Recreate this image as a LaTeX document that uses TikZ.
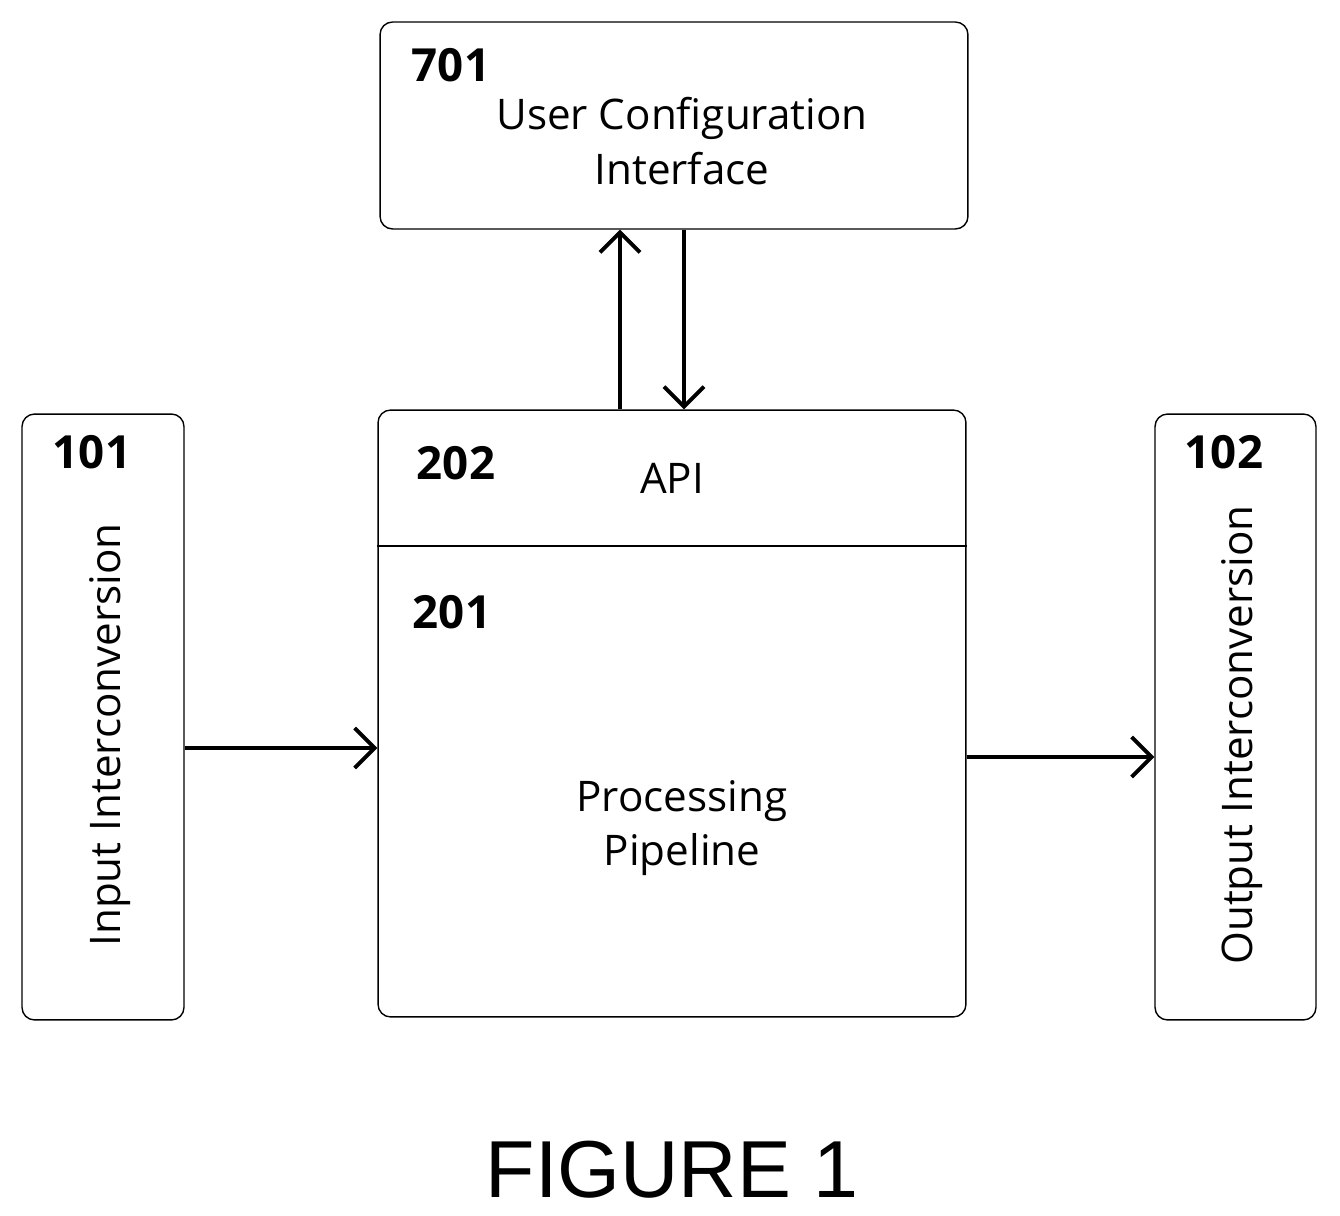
\documentclass[tikz,border=0pt]{standalone}
\usepackage{fontspec}
\setmainfont{Open Sans}
\newfontfamily\figfont{Liberation Sans}
\usetikzlibrary{arrows.meta,positioning}
\tikzset{
  blk/.style={draw, line width=0.8pt, rounded corners=0.25cm, inner sep=0pt},
  lbl/.style={font=\fontsize{26}{30}\selectfont\bfseries},
  txt/.style={font=\fontsize{24}{31}\selectfont, align=center},
  arr/.style={-{Straight Barb[length=4mm,width=8mm,line width=2.2pt]}, line width=2.4pt},
}
\begin{document}
\begin{tikzpicture}[x=0.02cm, y=-0.02cm]
    \useasboundingbox (0,0) rectangle (1340,1216);

    \node[blk, minimum width=11.76cm, minimum height=4.14cm] (ucfg) at (674,125.5) {};
    \node[blk, minimum width=3.24cm, minimum height=12.12cm] (inconv) at (103,717) {};
    \node[blk, minimum width=11.76cm, minimum height=12.14cm] (pipe) at (672,713.5) {};
    \node[blk, minimum width=3.22cm, minimum height=12.12cm] (outconv) at (1235.5,717) {};
    \draw[line width=0.8pt] (pipe.west |- 0,546) coordinate (div) -- (pipe.east |- 0,546);

    % labels
    \node[lbl] (n701) at (451,65) {701};
    \node[txt] (ucfgtxt) at (682,141) {User Configuration\\Interface};
    \node[lbl] (n101) at (92,452) {101};
    \node[txt, rotate=90] (intxt) at (110,735) {Input Interconversion};
    \node[lbl] (n202) at (456,463) {202};
    \node[txt] (api) at (672,478) {API};
    \node[lbl] (n201) at (452,612) {201};
    \node[txt] (pptxt) at (682,828) {Processing\\Pipeline};
    \node[lbl] (n102) at (1224,452) {102};
    \node[txt, rotate=90] (outtxt) at (1242,735) {Output Interconversion};

    \node[font=\figfont\fontsize{46}{50}\selectfont] (fig) at (672,1170) {FIGURE 1};

    % connectors
    \draw[arr] ([xshift=-1.04cm]pipe.north) -- ([xshift=-1.04cm]pipe.north |- ucfg.south);
    \draw[arr] ([xshift=0.2cm]ucfg.south) -- ([xshift=0.2cm]ucfg.south |- pipe.north);
    \draw[arr] ([yshift=-0.62cm]inconv.east) -- ([yshift=-0.62cm]inconv.east -| pipe.west);
    \draw[arr] ([yshift=-0.87cm]pipe.east) -- ([yshift=-0.87cm]pipe.east -| outconv.west);
\end{tikzpicture}
\end{document}
